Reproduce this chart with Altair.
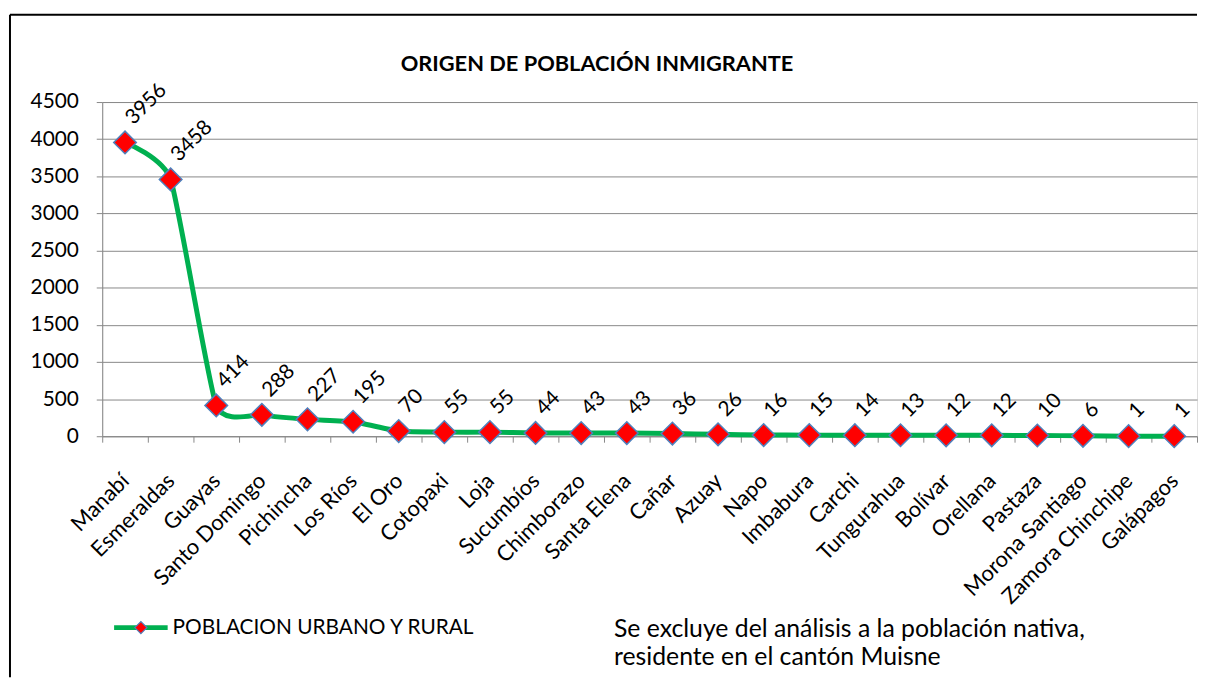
import altair as alt
import pandas as pd

provincias = ["Manabí", "Esmeraldas", "Guayas", "Santo Domingo", "Pichincha", "Los Ríos",
              "El Oro", "Cotopaxi", "Loja", "Sucumbíos", "Chimborazo", "Santa Elena",
              "Cañar", "Azuay", "Napo", "Imbabura", "Carchi", "Tungurahua", "Bolívar",
              "Orellana", "Pastaza", "Morona Santiago", "Zamora Chinchipe", "Galápagos"]
poblacion = [3956, 3458, 414, 288, 227, 195, 70, 55, 55, 44, 43, 43, 36, 26, 16, 15,
             14, 13, 12, 12, 10, 6, 1, 1]
y_ticks = [0, 500, 1000, 1500, 2000, 2500, 3000, 3500, 4000, 4500]
serie = "POBLACION URBANO Y RURAL"
nota = ["Se excluye del análisis a la población nativa,", "residente en el cantón Muisne"]
titulo = "ORIGEN DE POBLACIÓN INMIGRANTE"

FONT = "Lato"
GRID = "#888888"
df = pd.DataFrame({"provincia": provincias, "valor": poblacion})
one = pd.DataFrame({"k": [0]})

x = alt.X("provincia:N", sort=provincias, title=None,
          scale=alt.Scale(paddingInner=0, paddingOuter=0),
          axis=alt.Axis(labelAngle=-45, labelAlign="right", labelBaseline="middle",
                        labelFontSize=22, labelFont=FONT, labelColor="black",
                        labelPadding=35, tickBand="extent", tickSize=6,
                        tickColor=GRID, domainColor=GRID, grid=False))
y = alt.Y("valor:Q", title=None,
          scale=alt.Scale(domain=[0, 4500], nice=False),
          axis=alt.Axis(values=y_ticks, format="d", labelFontSize=21, labelFont=FONT,
                        labelColor="black", labelPadding=18, tickSize=6, tickColor=GRID,
                        domainColor=GRID, gridColor=GRID, grid=True,
                        minExtent=90, maxExtent=90))

base = alt.Chart(df)
line = base.mark_line(color="#00B050", strokeWidth=5, interpolate="cardinal",
                      tension=0.5).encode(x=x, y=y)
pts = base.mark_point(shape="diamond", filled=True, fill="#FF0000", stroke="#4F81BD",
                      strokeWidth=1.5, size=520, opacity=1).encode(x=x, y=y)
labels = base.mark_text(angle=315, align="left", baseline="middle", dx=18, dy=-12,
                        fontSize=21, font=FONT, color="black").encode(
    x=x, y=y, text=alt.Text("valor:Q"))

ann = alt.Chart(one)
# title (annotation)
title_txt = ann.mark_text(align="center", baseline="middle", fontSize=22,
                          font=FONT, fontWeight="bold", color="black",
                          text=titulo).encode(x=alt.value(499), y=alt.value(-38))

# legend (manual)
leg_line = ann.mark_rule(color="#00B050", strokeWidth=5).encode(
    x=alt.value(12), x2=alt.value(66), y=alt.value(530))
leg_pt = ann.mark_point(shape="diamond", filled=True, fill="#FF0000",
                        stroke="#4F81BD", strokeWidth=1.2, size=150, opacity=1).encode(
    x=alt.value(39), y=alt.value(530))
leg_txt = ann.mark_text(align="left", baseline="middle", fontSize=21, font=FONT,
                        color="black", text=serie).encode(
    x=alt.value(71), y=alt.value(530))
note1 = ann.mark_text(align="left", baseline="middle", fontSize=25, font=FONT,
                      color="black", text=nota[0]).encode(
    x=alt.value(516), y=alt.value(531))
note2 = ann.mark_text(align="left", baseline="middle", fontSize=25, font=FONT,
                      color="black", text=nota[1]).encode(
    x=alt.value(516), y=alt.value(560))

# outer chart border
border_left = ann.mark_rule(color="black", strokeWidth=2).encode(
    x=alt.value(-93), y=alt.value(-88), y2=alt.value(580))
border_top = ann.mark_rule(color="black", strokeWidth=2).encode(
    x=alt.value(-93), x2=alt.value(1104), y=alt.value(-88))

chart = alt.layer(line, pts, labels, title_txt, leg_line, leg_pt, leg_txt, note1, note2,
                  border_left, border_top).properties(
    width=1104, height=337,
    padding={"left": 1, "top": 3, "right": 0, "bottom": 0},
).configure_view(stroke=None).configure(background="white")

chart.save("out.html", embed_options={"renderer": "svg", "actions": False})
